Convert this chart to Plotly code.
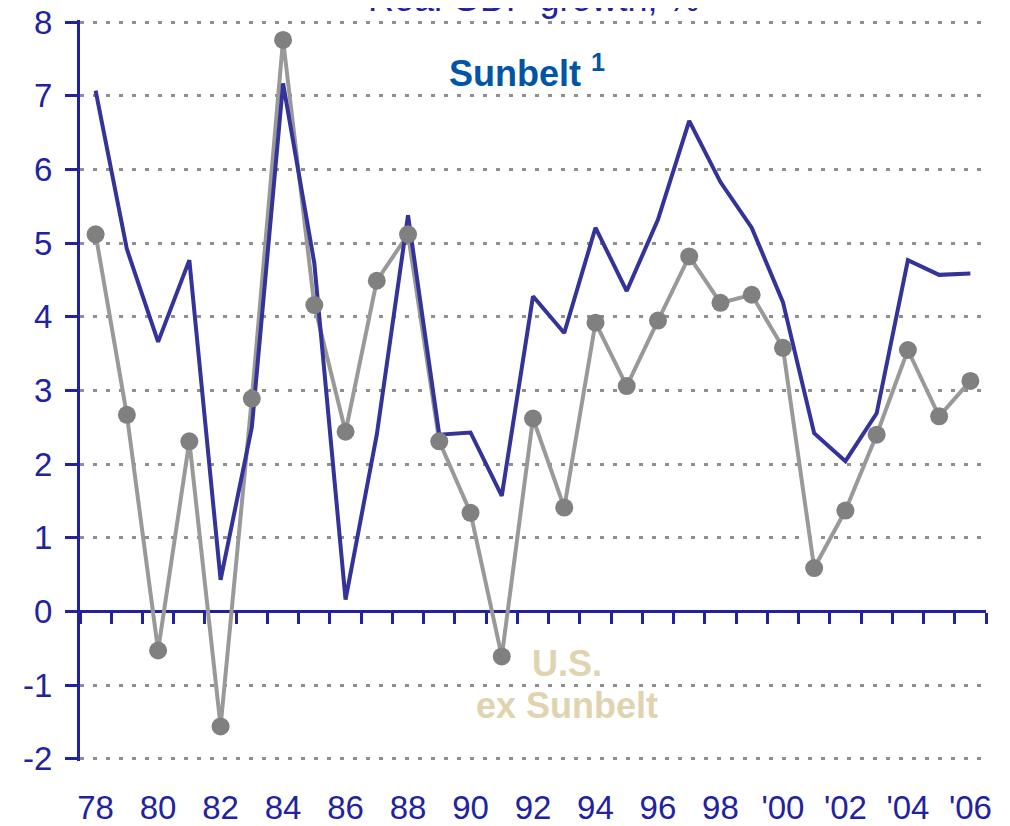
import plotly.graph_objects as go

years = list(range(1978, 2007))
sunbelt = [7.07, 4.92, 3.66, 4.77, 0.43, 2.50, 7.17, 4.73, 0.16, 2.40, 5.38, 2.40, 2.43, 1.57,
           4.28, 3.78, 5.21, 4.35, 5.32, 6.66, 5.83, 5.21, 4.20, 2.42, 2.04, 2.69, 4.77, 4.57, 4.59]
us_ex_sunbelt = [5.12, 2.67, -0.53, 2.31, -1.56, 2.89, 7.76, 4.16, 2.44, 4.49, 5.12, 2.31, 1.34, -0.61,
                 2.62, 1.41, 3.92, 3.06, 3.95, 4.82, 4.19, 4.30, 3.58, 0.59, 1.37, 2.40, 3.55, 2.65, 3.13]
label_years = years[::2]
x_tick_labels = ['78', '80', '82', '84', '86', '88', '90', '92', '94', '96', '98', "'00", "'02", "'04", "'06"]
y_ticks = [-2, -1, 0, 1, 2, 3, 4, 5, 6, 7, 8]
y_tick_labels = ['-2', '-1', '0', '1', '2', '3', '4', '5', '6', '7', '8']

NAVY = '#2222A0'
FONT = 'Liberation Sans, Arial, sans-serif'

x_lo = years[0] - 0.5
x_hi = years[-1] + 0.5
boundaries = [y - 0.5 for y in years] + [x_hi]
y_lo, y_hi = -2.03, 8.03
zero_pos = (0 - y_lo) / (y_hi - y_lo)

fig = go.Figure()
fig.add_trace(go.Scatter(x=years, y=us_ex_sunbelt, mode='lines',
                         line=dict(color='#999999', width=4), hoverinfo='skip', showlegend=False))
fig.add_trace(go.Scatter(x=years, y=sunbelt, mode='lines',
                         line=dict(color='#333399', width=4), showlegend=False))
fig.add_trace(go.Scatter(x=years, y=us_ex_sunbelt, mode='markers', xaxis='x2', yaxis='y',
                         marker=dict(color='#808080', size=18), showlegend=False))

fig.update_layout(
    width=1010, height=826,
    margin=dict(l=72, r=32, t=11.8, b=72.8, autoexpand=False),
    paper_bgcolor='white', plot_bgcolor='white',
    font=dict(family=FONT, color=NAVY),
    xaxis=dict(range=[x_lo, x_hi], tickmode='array', tickvals=label_years, ticktext=x_tick_labels,
               showline=False, ticks='', showgrid=False, zeroline=False, automargin=False,
               tickfont=dict(size=33, color=NAVY), ticklabelstandoff=24, ticklabeloverflow='allow'),
    xaxis2=dict(range=[x_lo, x_hi], overlaying='x', anchor='free', position=zero_pos,
                tickmode='array', tickvals=boundaries, showticklabels=False,
                ticks='outside', ticklen=11, tickwidth=3, tickcolor=NAVY, automargin=False,
                showline=True, linecolor=NAVY, linewidth=3, showgrid=False, zeroline=False,
                layer='below traces'),
    yaxis=dict(range=[y_lo, y_hi], tickmode='array', tickvals=y_ticks, ticktext=y_tick_labels,
               showline=True, linecolor=NAVY, linewidth=3, automargin=False,
               ticks='outside', ticklen=12, tickwidth=3, tickcolor=NAVY,
               showgrid=True, gridcolor='#8f8f8f', gridwidth=3, griddash='4px,9px',
               zeroline=False, tickfont=dict(size=33, color=NAVY), ticklabelstandoff=6,
               ticklabeloverflow='allow'),
    annotations=[
        dict(text='Real GDP growth, %', xref='paper', yref='paper', x=0.5, y=1.0,
             xanchor='center', yanchor='bottom', yshift=-1, showarrow=False,
             font=dict(size=36, color=NAVY, family=FONT)),
        dict(text='<b>Sunbelt <sup>1</sup></b>', xref='x', yref='y', x=1991.8, y=7.34,
             xanchor='center', yanchor='middle', showarrow=False,
             font=dict(size=36, color='#0055A5', family=FONT)),
        dict(text='<b>U.S.</b>', xref='x', yref='y', x=1993.1, y=-0.71,
             xanchor='center', yanchor='middle', showarrow=False,
             font=dict(size=36, color='#E0D4B0', family=FONT)),
        dict(text='<b>ex Sunbelt</b>', xref='x', yref='y', x=1993.1, y=-1.27,
             xanchor='center', yanchor='middle', showarrow=False,
             font=dict(size=36, color='#E0D4B0', family=FONT)),
    ],
)

fig.write_html('out.html')
